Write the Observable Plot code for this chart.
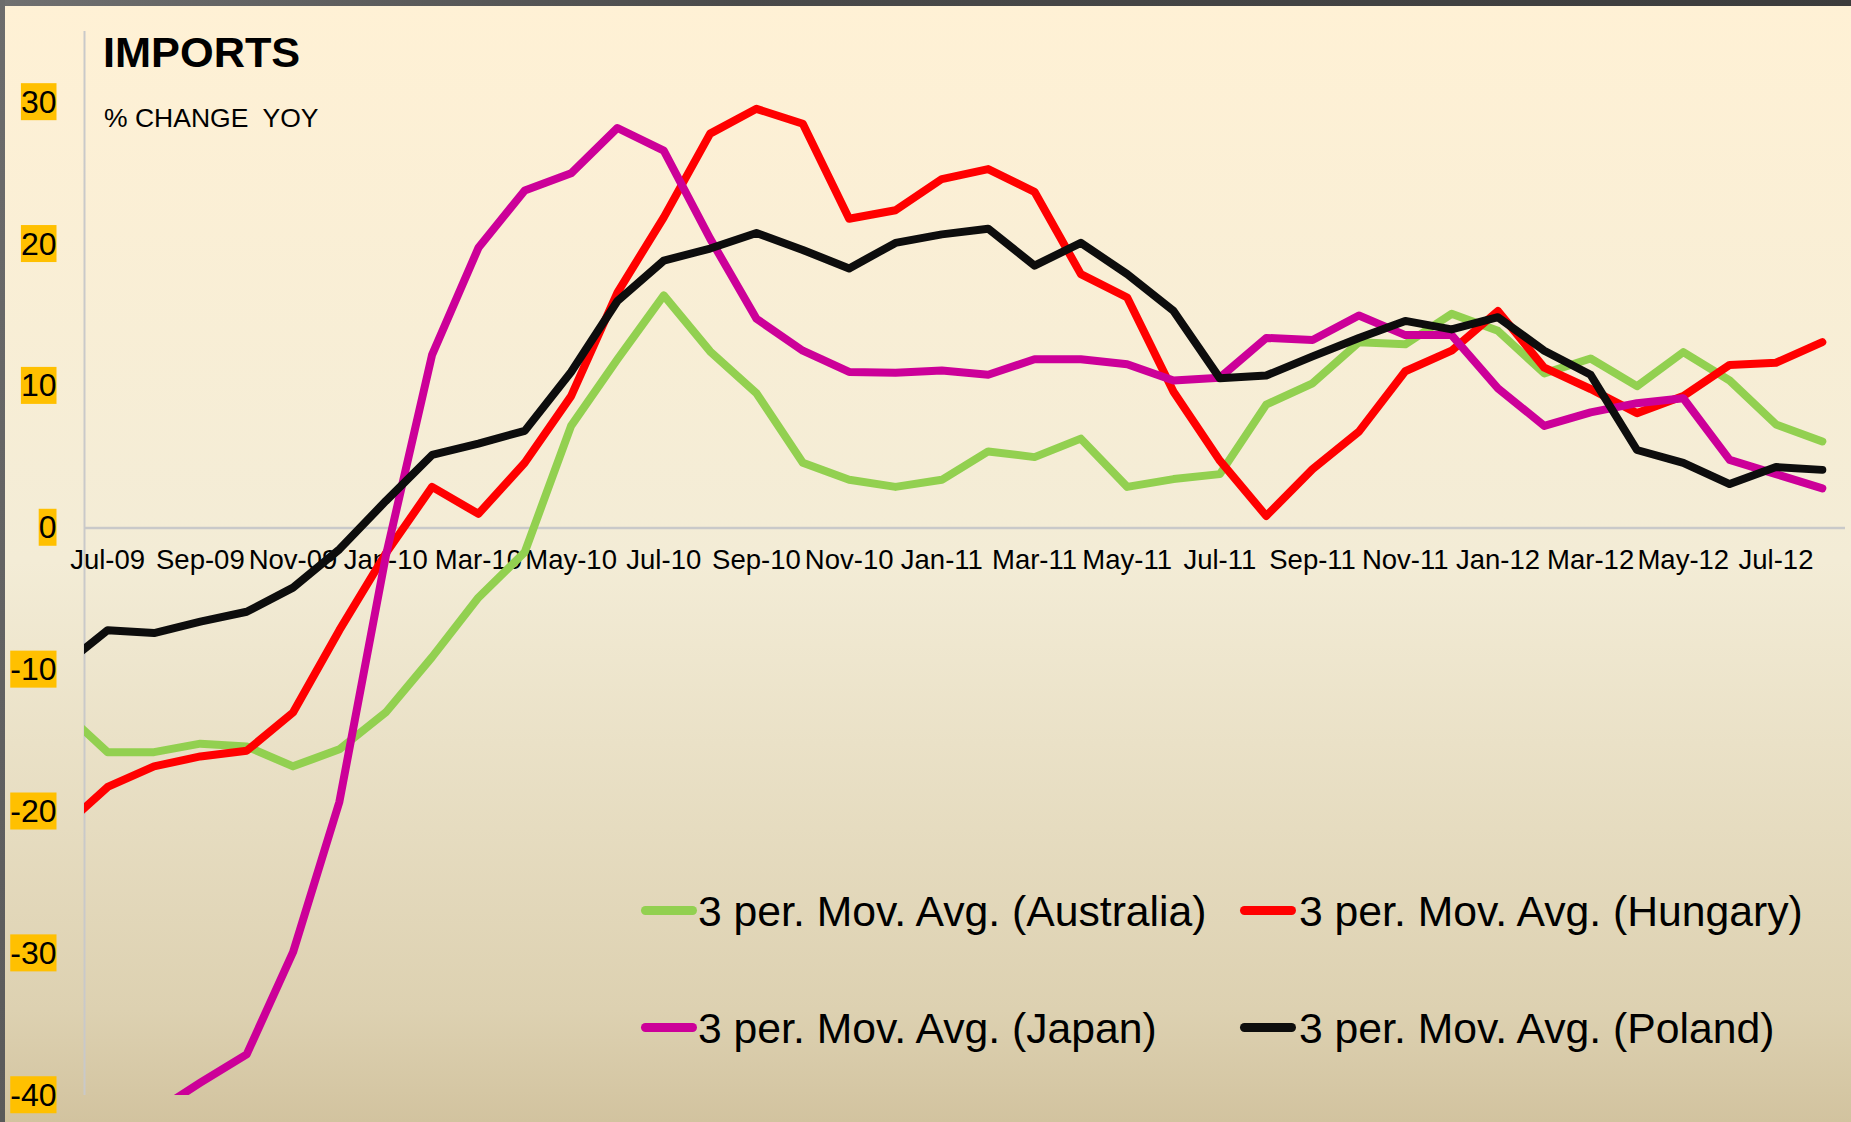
<!DOCTYPE html>
<html>
<head>
<meta charset="utf-8">
<script src="https://cdn.jsdelivr.net/npm/d3@7"></script>
<script src="https://cdn.jsdelivr.net/npm/@observablehq/plot@0.6"></script>
<style>
  html, body { margin: 0; padding: 0; }
  body { width: 1851px; height: 1122px; overflow: hidden; font-family: "Liberation Sans", Arial, sans-serif; }
  #wrap { position: relative; width: 1851px; height: 1122px;
    background: linear-gradient(to bottom, #FFF1D5 0%, #F3ECD6 50%, #DDD1B1 90%, #D2C39F 100%); }
  #chart svg { position: absolute; left: 0; top: 0; }
  .txt { position: absolute; line-height: 1; white-space: pre; color: #000; }
  .title { left: 103px; top: 30.5px; font-size: 43.3px; font-weight: bold; }
  .subtitle { left: 104px; top: 105px; font-size: 26.5px; }
  .sw { position: absolute; width: 56px; height: 9px; border-radius: 4.5px; }
  .leg { font-size: 42.7px; }
  .bt { position: absolute; left: 0; top: 0; width: 1851px; height: 6px; background: linear-gradient(to right, #707070, #4a4a4a 40%, #3c3c3c); }
  .bl { position: absolute; left: 0; top: 0; width: 5px; height: 1122px; background: linear-gradient(to bottom, #6c6c6c, #5a5a5a); }
</style>
</head>
<body>
<div id="wrap">
  <div id="chart"></div>
  <div class="txt title">IMPORTS</div>
  <div class="txt subtitle">% CHANGE  YOY</div>
  <div class="bt"></div>
  <div class="bl"></div>
</div>
<script>
// Month categories (index 0 = Jun-09, partly outside the left edge)
const months = ["Jun-09","Jul-09","Aug-09","Sep-09","Oct-09","Nov-09","Dec-09",
  "Jan-10","Feb-10","Mar-10","Apr-10","May-10","Jun-10","Jul-10","Aug-10","Sep-10","Oct-10","Nov-10","Dec-10",
  "Jan-11","Feb-11","Mar-11","Apr-11","May-11","Jun-11","Jul-11","Aug-11","Sep-11","Oct-11","Nov-11","Dec-11",
  "Jan-12","Feb-12","Mar-12","Apr-12","May-12","Jun-12","Jul-12","Aug-12"];

const xTickLabels = ["Jul-09","Sep-09","Nov-09","Jan-10","Mar-10","May-10","Jul-10","Sep-10","Nov-10",
  "Jan-11","Mar-11","May-11","Jul-11","Sep-11","Nov-11","Jan-12","Mar-12","May-12","Jul-12"];

const yTicks = [-40, -30, -20, -10, 0, 10, 20, 30];

const australia = [-12.8,-15.8,-15.8,-15.2,-15.4,-16.8,-15.6,-13.0,-9.1,-4.9,-1.7,7.2,11.9,16.4,12.45,9.5,4.6,3.4,2.9,
  3.4,5.4,5.0,6.3,2.9,3.45,3.8,8.7,10.2,13.1,12.95,15.1,13.9,10.9,11.95,10.0,12.4,10.4,7.3,6.1];
const hungary = [-21.2,-18.25,-16.8,-16.1,-15.7,-13.0,-7.2,-1.8,2.9,1.0,4.6,9.3,16.6,21.9,27.8,29.55,28.5,21.8,22.4,
  24.6,25.3,23.7,17.9,16.25,9.6,4.75,0.85,4.15,6.8,11.05,12.5,15.3,11.3,9.8,8.1,9.3,11.5,11.65,13.1];
const japan = [-43.0,-42.5,-41.2,-39.1,-37.1,-29.9,-19.3,-2.0,12.2,19.75,23.8,25.0,28.2,26.6,20.4,14.75,12.5,11.0,10.95,
  11.1,10.8,11.9,11.9,11.55,10.4,10.6,13.4,13.25,14.98,13.6,13.6,9.85,7.2,8.15,8.8,9.15,4.8,3.8,2.8];
const poland = [-9.8,-7.2,-7.4,-6.6,-5.9,-4.2,-1.5,1.9,5.15,5.95,6.85,11.0,16.0,18.85,19.7,20.8,19.6,18.3,20.1,
  20.7,21.1,18.5,20.1,17.9,15.3,10.55,10.75,12.1,13.4,14.6,14.0,14.86,12.5,10.8,5.5,4.6,3.1,4.3,4.1];

const seriesNames = ["3 per. Mov. Avg. (Australia)","3 per. Mov. Avg. (Hungary)","3 per. Mov. Avg. (Japan)","3 per. Mov. Avg. (Poland)"];
const seriesColors = ["#92D050","#FF0000","#CC0099","#0D0D0D"];
const seriesValues = [australia, hungary, japan, poland];

const rows = seriesValues.flatMap((vals, k) => vals.map((v, i) => ({ i, v, name: seriesNames[k] })));
const xTicks = xTickLabels.map(l => ({ i: months.indexOf(l), label: l }));

const plot = Plot.plot({
  width: 1851, height: 1122,
  marginLeft: 84, marginRight: 6, marginTop: 31, marginBottom: 27,
  style: { background: "transparent", fontFamily: "'Liberation Sans', Arial, sans-serif", color: "#000", overflow: "visible" },
  x: { domain: [0.5, months.length - 0.5], axis: null },
  y: { domain: [-40, 35], axis: null },
  color: { domain: seriesNames, range: seriesColors },
  marks: [
    Plot.ruleY([0], { stroke: "#C9C9C9", strokeWidth: 2.5 }),
    Plot.ruleX([0.5], { y1: -40, y2: 35, stroke: "#C9C9C9", strokeWidth: 2 }),
    Plot.text(xTicks, { x: "i", y: () => 0, text: "label", dy: 32, fontSize: 27.5, fill: "#000" }),
    Plot.axisY(yTicks, { tickSize: 0, tickPadding: 28, fontSize: 32, label: null, tickFormat: d => String(d), fill: "#000" }),
    Plot.line(rows, { x: "i", y: "v", z: "name", stroke: "name", strokeWidth: 8, clip: true,
      strokeLinejoin: "round", strokeLinecap: "round" })
  ]
});
document.getElementById("chart").appendChild(plot);

// yellow boxes behind y tick labels
plot.querySelectorAll('g[aria-label="y-axis tick label"] text').forEach(t => {
  const b = t.getBBox();
  const r = document.createElementNS("http://www.w3.org/2000/svg", "rect");
  r.setAttribute("x", b.x);
  r.setAttribute("y", b.y + b.height / 2 - 18.5);
  r.setAttribute("width", b.width);
  r.setAttribute("height", 37);
  r.setAttribute("fill", "#FFC000");
  if (t.getAttribute("transform")) r.setAttribute("transform", t.getAttribute("transform"));
  t.parentNode.insertBefore(r, t);
});

// legend
const wrap = document.getElementById("wrap");
const legPos = [[641, 698, 910, 890], [1240, 1299, 910, 890], [641, 698, 1027, 1007], [1240, 1299, 1027, 1007]];
seriesNames.forEach((n, k) => {
  const [sx, tx, cy, ty] = legPos[k];
  const sw = document.createElement("div");
  sw.className = "sw";
  sw.style.left = sx + "px";
  sw.style.top = (cy - 4.5) + "px";
  sw.style.background = seriesColors[k];
  wrap.appendChild(sw);
  const tt = document.createElement("div");
  tt.className = "txt leg";
  tt.style.left = tx + "px";
  tt.style.top = ty + "px";
  tt.textContent = n;
  wrap.appendChild(tt);
});
</script>
</body>
</html>
